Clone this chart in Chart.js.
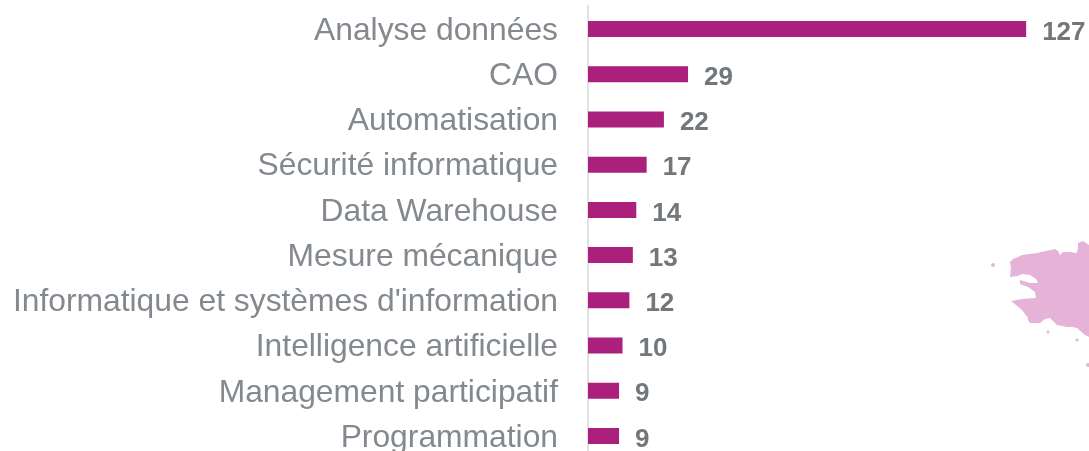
<!DOCTYPE html>
<html><head><meta charset="utf-8">
<style>
html,body{margin:0;padding:0;background:#fff;overflow:hidden;width:1089px;height:451px}
#wrap{position:relative;width:1089px;height:451px;overflow:hidden}
canvas{position:absolute;left:0;top:0;display:block}
svg{position:absolute;left:0;top:0}
</style>
<script src="https://cdn.jsdelivr.net/npm/chart.js@4/dist/chart.umd.min.js"></script>
</head><body>
<div id="wrap">
<svg width="1089" height="451" viewBox="0 0 1089 451" fill="#e6b3d8">
<path d="M1011 268 L1010 262 L1013 259 L1018 257 L1022 255 L1030 254 L1037 253 L1046 251 L1055 249 L1058 251 L1060 255 L1063 252 L1070 252 L1077 253 L1078 247 L1078 243 L1083 241 L1089 245 L1089 337 L1085 335 L1077 328 L1072 327 L1067 327 L1057 325 L1053 321 L1050 318 L1045 319 L1040 323 L1030 323 L1028 320 L1028 318 L1022 310 L1016 305 L1011 301 L1022 299 L1036 298 L1035 292 L1028 287 L1020 284 L1020 280 L1030 283 L1038 283 L1036 279 L1030 275 L1022 274 L1018 276 L1010 277 Z"/>
<circle cx="993" cy="265" r="2"/><circle cx="1048" cy="332" r="1.5"/><circle cx="1077" cy="340" r="1.5"/><circle cx="1088" cy="365" r="2"/>
</svg>
<canvas id="c" width="1089" height="470"></canvas>
</div>
<script>
const categories = ["Analyse données","CAO","Automatisation","Sécurité informatique","Data Warehouse","Mesure mécanique","Informatique et systèmes d'information","Intelligence artificielle","Management participatif","Programmation"];
const values = [127,29,22,17,14,13,12,10,9,9];
const valueLabels = {
  id:'valueLabels',
  afterDatasetsDraw(chart){
    const {ctx}=chart;
    const meta=chart.getDatasetMeta(0);
    ctx.save();
    ctx.font='bold 26px "Liberation Sans", Arial, sans-serif';
    ctx.fillStyle='#72777b';
    ctx.textAlign='left';
    ctx.textBaseline='middle';
    meta.data.forEach((b,i)=>ctx.fillText(String(values[i]),b.x+16,b.y+3.5));
    ctx.restore();
  }
};
new Chart(document.getElementById('c'),{
  type:'bar',
  data:{labels:categories,datasets:[{data:values,backgroundColor:'#ab1f7d',barPercentage:0.354,categoryPercentage:1}]},
  options:{
    indexAxis:'y',
    responsive:false,
    animation:false,
    layout:{padding:{top:6.4,bottom:11.4,left:0,right:18}},
    plugins:{legend:{display:false},title:{display:false},tooltip:{enabled:false}},
    scales:{
      x:{display:false,min:0,max:140},
      y:{
        afterFit(s){s.width=588;s.paddingTop=0;s.paddingBottom=0;},
        grid:{display:false,drawTicks:false},
        border:{display:true,color:'#e2e2e2',width:2},
        ticks:{autoSkip:false,padding:30,labelOffset:2,color:'#83898e',font:{family:'"Liberation Sans", Arial, sans-serif',size:31.8}}
      }
    }
  },
  plugins:[valueLabels]
});
</script>
</body></html>
